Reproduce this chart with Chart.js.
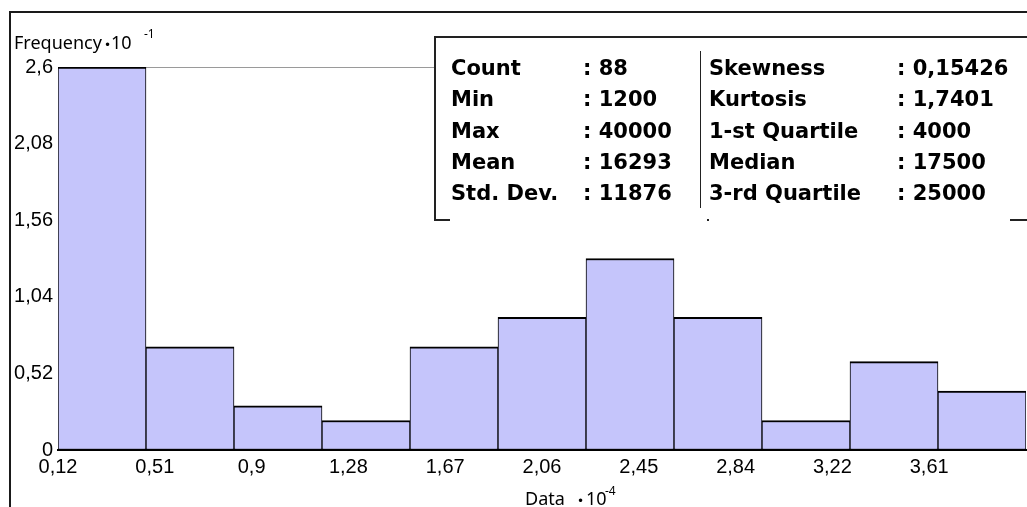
<!DOCTYPE html>
<html>
<head>
<meta charset="utf-8">
<script src="https://cdn.jsdelivr.net/npm/chart.js@4.4.1/dist/chart.umd.min.js"></script>
<style>
  html, body { margin: 0; padding: 0; background: #fff; overflow: hidden; }
  #wrap { width: 1027px; height: 507px; position: relative; }
</style>
</head>
<body>
<div id="wrap"><canvas id="histo"></canvas></div>
<script>
// histogram data (x in units of 10^4, frequency in units of 10^-1)
const binEdges = [0.12, 0.4727, 0.8255, 1.1782, 1.5309, 1.8836, 2.2364, 2.5891, 2.9418, 3.2945, 3.6473, 4.0];
const frequencies = [2.6, 0.7, 0.3, 0.2, 0.7, 0.9, 1.3, 0.9, 0.2, 0.6, 0.4];

const xTickValues = [0.12, 0.508, 0.896, 1.284, 1.672, 2.06, 2.448, 2.836, 3.224, 3.612];
const xTickLabels = ['0,12', '0,51', '0,9', '1,28', '1,67', '2,06', '2,45', '2,84', '3,22', '3,61'];
const yTickValues = [0, 0.52, 1.04, 1.56, 2.08, 2.6];
const yTickLabels = ['0', '0,52', '1,04', '1,56', '2,08', '2,6'];

// statistics box
const statNamesLeft = ['Count', 'Min', 'Max', 'Mean', 'Std. Dev.'];
const statValuesLeft = [': 88', ': 1200', ': 40000', ': 16293', ': 11876'];
const statNamesRight = ['Skewness', 'Kurtosis', '1-st Quartile', 'Median', '3-rd Quartile'];
const statValuesRight = [': 0,15426', ': 1,7401', ': 4000', ': 17500', ': 25000'];

const barPoints = frequencies.map((f, i) => ({ x: (binEdges[i] + binEdges[i + 1]) / 2, y: f }));

// frame, stats box and axis captions
const decorPlugin = {
    id: 'decor',
    afterDraw(chart) {
        const ctx = chart.ctx;
        ctx.save();

        // outer frame
        ctx.strokeStyle = '#1a1a1a';
        ctx.lineWidth = 2;
        ctx.beginPath();
        ctx.moveTo(10, 507); ctx.lineTo(10, 12); ctx.lineTo(1027, 12);
        ctx.stroke();

        // stats box
        ctx.fillStyle = '#fff';
        ctx.fillRect(435, 36, 600, 183);
        ctx.strokeStyle = '#222';
        ctx.lineWidth = 2;
        ctx.beginPath();
        ctx.moveTo(1027, 37); ctx.lineTo(435, 37); ctx.lineTo(435, 220); ctx.lineTo(450, 220);
        ctx.moveTo(1010, 220); ctx.lineTo(1027, 220);
        ctx.stroke();
        ctx.fillStyle = '#222';
        ctx.fillRect(707, 219, 2, 2);
        ctx.lineWidth = 1;
        ctx.beginPath();
        ctx.moveTo(700.5, 51); ctx.lineTo(700.5, 208);
        ctx.stroke();

        ctx.fillStyle = '#000';
        ctx.textBaseline = 'alphabetic';
        ctx.font = 'bold 21px "DejaVu Sans"';
        for (let i = 0; i < statNamesLeft.length; i++) {
            const y = 75 + i * 31.3;
            ctx.fillText(statNamesLeft[i], 451, y);
            ctx.fillText(statValuesLeft[i], 583, y);
            ctx.fillText(statNamesRight[i], 709, y);
            ctx.fillText(statValuesRight[i], 897, y);
        }

        // axis captions with exponent
        ctx.font = '18px "Noto Sans"';
        ctx.fillText('Frequency', 14, 49);
        ctx.fillText('10', 111, 49);
        ctx.fillText('Data', 525, 505);
        ctx.fillText('10', 586, 505);
        ctx.font = '12px "DejaVu Sans"';
        ctx.fillText('•', 104, 49);
        ctx.fillText('•', 577, 505);
        ctx.font = '12px "Noto Sans"';
        ctx.fillText('-1', 144, 38);
        ctx.fillText('-4', 605, 495);

        ctx.restore();
    }
};

function d2c_histogram(){
    const histo = document.getElementById('histo');
    new Chart(histo, {
        type: 'bar',
        data: {
            datasets: [{
                label: 'Frequency',
                data: barPoints,
                backgroundColor: '#c5c5fb',
                borderColor: '#000',
                borderWidth: { top: 2, left: 1, right: 1, bottom: 1 },
                borderSkipped: false,
                barPercentage: 1,
                categoryPercentage: 1
            }]
        },
        options: {
            responsive: true,
            maintainAspectRatio: false,
            animation: false,
            layout: {
                padding: { top: 67, right: 1, left: 0, bottom: 0 }
            },
            plugins: {
                legend: { display: false },
                tooltip: { enabled: false }
            },
            scales: {
                x: {
                    type: 'linear',
                    offset: false,
                    min: binEdges[0],
                    max: binEdges[binEdges.length - 1],
                    afterBuildTicks: (scale) => {
                        scale.ticks = xTickValues.map(v => ({ value: v }));
                    },
                    afterFit: (scale) => { scale.height = 57; },
                    grid: { display: false, drawTicks: false },
                    border: { display: true, color: '#000', width: 2 },
                    ticks: {
                        autoSkip: false,
                        maxRotation: 0,
                        padding: 5,
                        color: '#000',
                        font: { family: '"Liberation Sans", Arial', size: 20 },
                        callback: (value, index) => xTickLabels[index]
                    }
                },
                y: {
                    min: 0,
                    max: 2.6,
                    afterBuildTicks: (scale) => {
                        scale.ticks = yTickValues.map(v => ({ value: v }));
                    },
                    afterFit: (scale) => { scale.width = 58; },
                    grid: {
                        drawTicks: false,
                        color: (c) => c.index === yTickValues.length - 1 ? '#9a9a9a' : 'rgba(0,0,0,0)',
                        lineWidth: 1
                    },
                    border: { display: false },
                    ticks: {
                        padding: 5,
                        color: '#000',
                        font: { family: '"Liberation Sans", Arial', size: 20 },
                        callback: (value, index) => yTickLabels[index]
                    }
                }
            }
        },
        plugins: [decorPlugin]
    });
}d2c_histogram();
</script>
</body>
</html>
